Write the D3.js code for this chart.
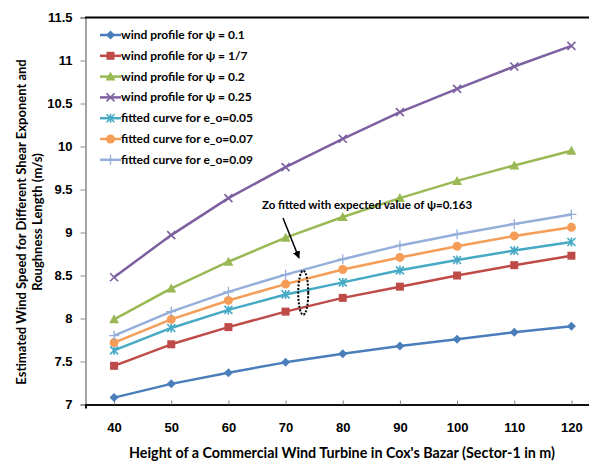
<!DOCTYPE html>
<html><head><meta charset="utf-8">
<script src="https://cdn.jsdelivr.net/npm/d3@7"></script>
<style>
html,body{margin:0;padding:0;background:#fff;}
svg{display:block;font-family:Lato,"Open Sans",sans-serif;}
</style></head>
<body><svg id="c" width="589" height="461"></svg>
<script>
const heights = [40, 50, 60, 70, 80, 90, 100, 110, 120];
const psi010 = [7.08, 7.24, 7.37, 7.49, 7.59, 7.68, 7.76, 7.84, 7.91];
const psi017 = [7.45, 7.70, 7.90, 8.08, 8.24, 8.37, 8.50, 8.62, 8.73];
const psi020 = [7.99, 8.35, 8.66, 8.94, 9.18, 9.40, 9.60, 9.78, 9.95];
const psi025 = [8.48, 8.97, 9.40, 9.76, 10.09, 10.40, 10.67, 10.93, 11.17];
const fit005 = [7.63, 7.89, 8.10, 8.28, 8.42, 8.56, 8.68, 8.79, 8.89];
const fit007 = [7.72, 7.99, 8.21, 8.40, 8.57, 8.71, 8.84, 8.96, 9.06];
const fit009 = [7.80, 8.08, 8.31, 8.51, 8.69, 8.85, 8.98, 9.10, 9.21];
const seriesNames = ["wind profile for \u03c8 = 0.1","wind profile for \u03c8 = 1/7","wind profile for \u03c8 = 0.2","wind profile for \u03c8 = 0.25","fitted curve for e_o=0.05","fitted curve for e_o=0.07","fitted curve for e_o=0.09"];
const xTicks = [40, 50, 60, 70, 80, 90, 100, 110, 120];
const yTicks = [7, 7.5, 8, 8.5, 9, 9.5, 10, 10.5, 11, 11.5];
const annotationText = "Zo fitted with expected value of \u03c8=0.163";
const ellipseAt = {x: 73, y: 8.3};
const xTitle = "Height of a Commercial Wind Turbine in Cox's Bazar (Sector-1 in m)";
const yTitle = ["Estimated Wind Speed for Different Shear Exponent and", "Roughness Length (m/s)"];

const colors = ["#4A7EBB","#BE4B48","#98B954","#7D60A0","#46AAC5","#F59D56","#95AEDA"];
const markers = ["diamond","square","triangle","x","asterisk","circle","plus"];
const allSeries = [psi010, psi017, psi020, psi025, fit005, fit007, fit009];

const svg = d3.select("#c");
const x = d3.scaleLinear().domain([35,125]).range([85.5, 600]);
const y = d3.scaleLinear().domain([7,11.5]).range([404.5, 17.5]);

// axes
const yAxis = svg.append("g").attr("transform","translate(85.5,0)")
  .call(d3.axisLeft(y).tickValues(yTicks).tickSize(5).tickPadding(8).tickFormat(d=>d3.format("")(d)));
yAxis.select(".domain").attr("stroke","#868686").attr("stroke-width",1.5);
yAxis.selectAll(".tick line").attr("stroke","#868686");
yAxis.selectAll("text").attr("font-size",13).attr("font-weight","bold").attr("fill","#000");

const xAxis = svg.append("g").attr("transform","translate(0,404.5)")
  .call(d3.axisBottom(x).tickValues(xTicks).tickSize(4).tickPadding(14));
xAxis.select(".domain").attr("stroke","#111").attr("stroke-width",2);
xAxis.selectAll(".tick line").attr("stroke","#868686").attr("transform","translate(0,-4)");
xAxis.selectAll("text").attr("font-size",13).attr("font-weight","bold").attr("fill","#000");

// top border
svg.append("line").attr("x1",85).attr("x2",589).attr("y1",y(11.5)).attr("y2",y(11.5))
  .attr("stroke","#000").attr("stroke-width",2);

function drawMarker(g, type, color, cx, cy){
  if(type==="diamond"){
    g.append("path").attr("d",`M${cx},${cy-4.5}L${cx+4.5},${cy}L${cx},${cy+4.5}L${cx-4.5},${cy}Z`).attr("fill",color);
  } else if(type==="square"){
    g.append("rect").attr("x",cx-4).attr("y",cy-4).attr("width",8).attr("height",8).attr("fill",color);
  } else if(type==="triangle"){
    g.append("path").attr("d",`M${cx},${cy-5}L${cx+5},${cy+4}L${cx-5},${cy+4}Z`).attr("fill",color);
  } else if(type==="circle"){
    g.append("circle").attr("cx",cx).attr("cy",cy).attr("r",4.5).attr("fill",color);
  } else if(type==="x"){
    g.append("path").attr("d",`M${cx-4},${cy-4}L${cx+4},${cy+4}M${cx-4},${cy+4}L${cx+4},${cy-4}`).attr("stroke",color).attr("stroke-width",1.6);
  } else if(type==="asterisk"){
    g.append("path").attr("d",`M${cx-4},${cy-4}L${cx+4},${cy+4}M${cx-4},${cy+4}L${cx+4},${cy-4}M${cx},${cy-4.5}L${cx},${cy+4.5}`).attr("stroke",color).attr("stroke-width",1.6);
  } else if(type==="plus"){
    g.append("path").attr("d",`M${cx-5},${cy}L${cx+5},${cy}M${cx},${cy-5}L${cx},${cy+5}`).attr("stroke",color).attr("stroke-width",1.3);
  }
}

const line = d3.line().x(d=>x(d[0])).y(d=>y(d[1]));
allSeries.forEach((vals,i)=>{
  const pts = heights.map((h,j)=>[h, vals[j]]);
  const g = svg.append("g");
  g.append("path").datum(pts).attr("d",line).attr("fill","none").attr("stroke",colors[i]).attr("stroke-width",2.5).attr("stroke-linejoin","round");
  pts.forEach(p=>drawMarker(g, markers[i], colors[i], x(p[0]), y(p[1])));
});

// legend
const lg = svg.append("g");
seriesNames.forEach((name,i)=>{
  const ly = 35 + i*20.8;
  lg.append("line").attr("x1",100).attr("x2",121).attr("y1",ly).attr("y2",ly).attr("stroke",colors[i]).attr("stroke-width",2.5);
  drawMarker(lg, markers[i], colors[i], 110.5, ly);
  lg.append("text").attr("x",121).attr("y",ly+4).attr("font-size",12).attr("font-weight","bold").attr("fill","#000").text(name);
});

// annotation
svg.append("text").attr("x",262).attr("y",209).attr("font-size",11.5).attr("font-weight","bold").attr("fill","#000").text(annotationText);
svg.append("defs").append("marker").attr("id","ah").attr("viewBox","0 0 10 10").attr("refX",9).attr("refY",5)
  .attr("markerWidth",5).attr("markerHeight",5).attr("orient","auto")
  .append("path").attr("d","M0,0L10,5L0,10Z").attr("fill","#000");
svg.append("line").attr("x1",283).attr("y1",218).attr("x2",299).attr("y2",258)
  .attr("stroke","#000").attr("stroke-width",1.5).attr("marker-end","url(#ah)");
svg.append("ellipse").attr("cx",x(ellipseAt.x)+0.5).attr("cy",y(ellipseAt.y)).attr("rx",5).attr("ry",22)
  .attr("fill","none").attr("stroke","#000").attr("stroke-width",2).attr("stroke-dasharray","2,1.5");

// titles
svg.append("text").attr("x",342).attr("y",458).attr("text-anchor","middle").attr("font-size",14.3).attr("font-weight","bold").attr("fill","#000").text(xTitle);
yTitle.forEach((t,i)=>{
  svg.append("text").attr("transform",`translate(${26+i*16},222) rotate(-90)`).attr("text-anchor","middle")
    .attr("font-size",13).attr("font-weight","bold").attr("fill","#000").text(t);
});
</script></body></html>
